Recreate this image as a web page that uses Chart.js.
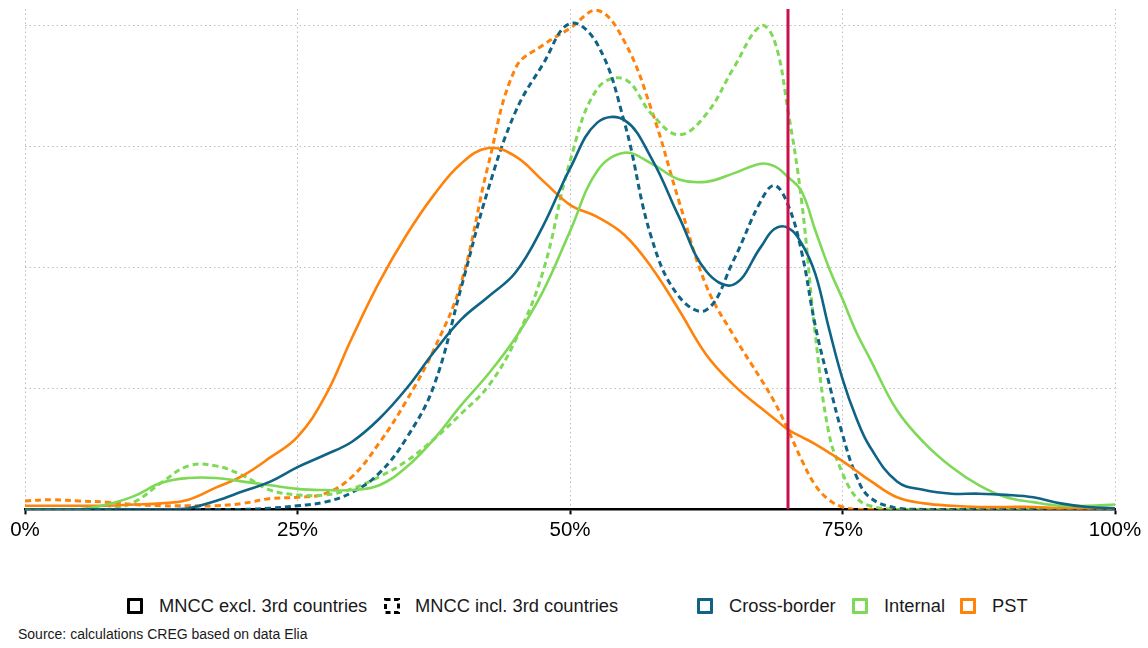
<!DOCTYPE html>
<html>
<head>
<meta charset="utf-8">
<script src="https://cdn.jsdelivr.net/npm/chart.js@4"></script>
<style>
  html, body { margin: 0; padding: 0; background: #ffffff; }
  #wrap { position: relative; width: 1148px; height: 648px; font-family: "Liberation Sans", Arial, sans-serif; color: #1a1a1a; }
  #plot { position: absolute; left: 0; top: 0; width: 1148px; height: 560px; }
  .key { position: absolute; top: 598px; width: 16px; height: 16px; box-sizing: border-box; border: 3px solid #000; border-radius: 1px; }
  .lbl { position: absolute; top: 596px; font-size: 18.3px; line-height: 20px; white-space: nowrap; }
  #source { position: absolute; left: 18px; top: 625px; font-size: 14px; line-height: 18px; white-space: nowrap; }
</style>
</head>
<body>
<div id="wrap">
  <div id="plot"><canvas id="chart"></canvas></div>

  <div class="key" style="left:127px;"></div>
  <div class="lbl" style="left:159px;">MNCC excl. 3rd countries</div>
  <svg style="position:absolute;left:384px;top:598px;" width="17" height="17">
    <rect x="1.5" y="1.5" width="13" height="13" fill="none" stroke="#000" stroke-width="3" stroke-dasharray="5 3.5"/>
  </svg>
  <div class="lbl" style="left:415px;">MNCC incl. 3rd countries</div>

  <div class="key" style="left:697px;border-color:#0f6385;"></div>
  <div class="lbl" style="left:729px;">Cross-border</div>
  <div class="key" style="left:852px;border-color:#7ed957;"></div>
  <div class="lbl" style="left:884px;">Internal</div>
  <div class="key" style="left:960px;border-color:#ff820a;"></div>
  <div class="lbl" style="left:992px;">PST</div>

  <div id="source">Source: calculations CREG based on data Elia</div>
</div>

<script>
// Share of capacity (%) at which each density is evaluated
const pct = [0, 2.5, 5, 7.5, 10, 12.5, 15, 17.5, 20, 22.5, 25, 27.5, 30, 32.5, 35, 37.5, 40, 42.5, 45, 47.5,
             50, 52.5, 55, 57.5, 60, 62.5, 65, 67.5, 68.75, 70, 71.25, 72.5, 73.75, 75, 76.25, 77.5,
             80, 82.5, 85, 87.5, 90, 92.5, 95, 97.5, 100];

// Densities, MNCC excluding 3rd countries (solid lines)
const crossBorderExcl = [0, 0, 0, 0, 0, 0, 0.01, 0.07, 0.15, 0.23, 0.35, 0.45, 0.56, 0.75, 1.0, 1.3, 1.57, 1.76, 1.96, 2.34,
                         2.82, 3.2, 3.22, 2.9, 2.42, 1.97, 1.86, 2.17, 2.32, 2.33, 2.2, 1.95, 1.5, 1.08, 0.76, 0.52,
                         0.23, 0.16, 0.13, 0.13, 0.12, 0.1, 0.05, 0.02, 0.01];
const internalExcl = [0, 0, 0, 0.04, 0.11, 0.22, 0.26, 0.26, 0.23, 0.2, 0.17, 0.16, 0.16, 0.2, 0.35, 0.58, 0.86, 1.12, 1.42, 1.8,
                      2.3, 2.8, 2.95, 2.86, 2.73, 2.71, 2.78, 2.86, 2.84, 2.75, 2.63, 2.31, 2.0, 1.74, 1.47, 1.25,
                      0.82, 0.55, 0.35, 0.2, 0.1, 0.06, 0.03, 0.03, 0.04];
const pstExcl = [0.03, 0.03, 0.03, 0.03, 0.04, 0.05, 0.08, 0.18, 0.28, 0.43, 0.6, 0.93, 1.42, 1.88, 2.27, 2.6, 2.86, 2.99, 2.92, 2.72,
                 2.52, 2.42, 2.27, 2.0, 1.65, 1.28, 1.03, 0.84, 0.75, 0.66, 0.6, 0.54, 0.47, 0.4, 0.32, 0.24,
                 0.1, 0.05, 0.03, 0.02, 0.02, 0.02, 0.01, 0.01, 0.01];

// Densities, MNCC including 3rd countries (dashed lines)
const crossBorderIncl = [0, 0, 0, 0, 0, 0, 0, 0, 0, 0.01, 0.03, 0.06, 0.14, 0.3, 0.59, 1.02, 1.83, 2.65, 3.29, 3.68,
                         4.02, 3.85, 3.2, 2.24, 1.76, 1.65, 2.06, 2.55, 2.68, 2.52, 2.13, 1.52, 1.05, 0.62, 0.28, 0.1,
                         0.01, 0, 0, 0, 0, 0, 0, 0, 0];
const internalIncl = [0, 0, 0, 0, 0.06, 0.22, 0.36, 0.36, 0.28, 0.16, 0.12, 0.12, 0.17, 0.27, 0.4, 0.58, 0.79, 1.02, 1.4, 1.96,
                      2.88, 3.48, 3.56, 3.27, 3.1, 3.27, 3.65, 4.0, 3.88, 3.3, 2.55, 1.45, 0.63, 0.3, 0.1, 0.03,
                      0, 0, 0, 0, 0, 0, 0, 0, 0];
const pstIncl = [0.07, 0.08, 0.07, 0.06, 0.04, 0.03, 0.03, 0.03, 0.05, 0.09, 0.1, 0.13, 0.27, 0.55, 0.9, 1.32, 1.87, 2.85, 3.65, 3.84,
                 3.98, 4.13, 3.87, 3.3, 2.55, 1.85, 1.44, 1.08, 0.89, 0.66, 0.41, 0.2, 0.08, 0.02, 0, 0,
                 0, 0, 0, 0, 0, 0, 0, 0, 0];

// Reference threshold (% of capacity)
const threshold = 70;
const xTicks = [0, 25, 50, 75, 100];
const yMax = 4.14;

const colors = { cross: '#0f6385', internal: '#7ed957', pst: '#ff820a', threshold: '#c8104a' };

const toPoints = arr => pct.map((x, i) => ({ x: x, y: arr[i] }));

function curve(label, values, color, dashed) {
  return {
    label: label,
    data: toPoints(values),
    borderColor: color,
    borderWidth: dashed ? 3 : 2.6,
    borderDash: dashed ? [6, 4] : [],
    tension: 0.4,
    pointRadius: 0,
    fill: false
  };
}

const datasets = [
  {
    label: 'threshold',
    data: [{ x: threshold, y: 0 }, { x: threshold, y: yMax }],
    borderColor: colors.threshold,
    borderWidth: 3,
    pointRadius: 0,
    tension: 0
  },
  curve('Cross-border excl.', crossBorderExcl, colors.cross, false),
  curve('Internal excl.', internalExcl, colors.internal, false),
  curve('PST excl.', pstExcl, colors.pst, false),
  curve('Cross-border incl.', crossBorderIncl, colors.cross, true),
  curve('Internal incl.', internalIncl, colors.internal, true),
  curve('PST incl.', pstIncl, colors.pst, true)
];

new Chart(document.getElementById('chart'), {
  type: 'line',
  data: { datasets: datasets },
  options: {
    responsive: true,
    maintainAspectRatio: false,
    animation: false,
    layout: { padding: { left: 25, right: 33, top: 9, bottom: 13 } },
    plugins: { legend: { display: false }, tooltip: { enabled: false } },
    scales: {
      x: {
        type: 'linear',
        min: 0,
        max: 100,
        afterBuildTicks: scale => { scale.ticks = xTicks.map(v => ({ value: v })); },
        ticks: {
          callback: v => v + '%',
          color: '#000',
          padding: 4,
          maxRotation: 0,
          font: { family: '"Liberation Sans", Arial, sans-serif', size: 20.5 }
        },
        grid: {
          color: '#bdbdbd',
          lineWidth: 1,
          tickLength: 5,
          tickColor: '#000',
          tickWidth: 2,
          tickBorderDash: []
        },
        border: { display: true, color: '#000', width: 2.5, dash: [1.5, 3] }
      },
      y: {
        min: 0,
        max: yMax,
        afterBuildTicks: scale => { scale.ticks = [0, 1, 2, 3, 4].map(v => ({ value: v })); },
        ticks: { display: false },
        grid: { color: '#bdbdbd', lineWidth: 1, drawTicks: false },
        border: { display: false, dash: [1.5, 3] }
      }
    }
  }
});
</script>
</body>
</html>
